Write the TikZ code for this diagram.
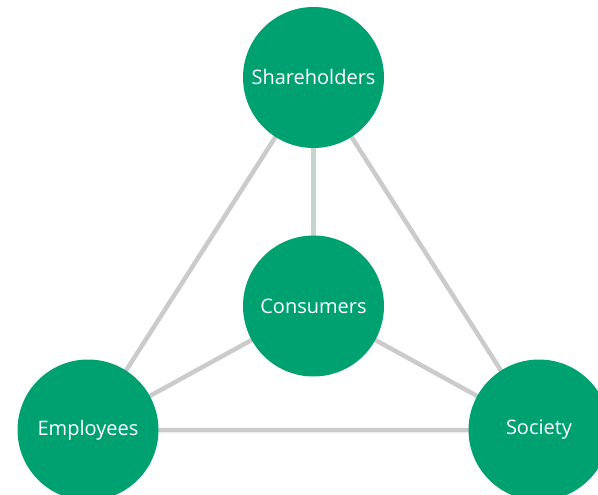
\documentclass[tikz,border=0pt]{standalone}
\usepackage{fontspec}
\setmainfont{Open Sans}
\usepackage{tikz}
\usetikzlibrary{positioning,backgrounds}
\definecolor{stakegreen}{HTML}{00A171}
\definecolor{linkgray}{HTML}{CBCBCB}
\definecolor{linkmint}{HTML}{C6D4CF}

\begin{document}
\begin{tikzpicture}[
    x=1pt, y=-1pt,
    stake/.style={circle, fill=stakegreen, text=white, inner sep=0, minimum size=141pt, font=\fontsize{20}{24}\selectfont},
    link/.style={draw=linkgray, line width=4.5pt},
    ]
\useasboundingbox (0,0) rectangle (598,495);

\node[stake] (share) at (313.5,77.5) {Shareholders};
\node[stake] (cons)  at (313.5,306)  {Consumers};
\node[stake] (empl)  at (88,430)     {Employees};
\node[stake] (soc)   at (539,430)    {Society};

\begin{scope}[on background layer]
\path[link] (empl.center) -- (share.center) -- (soc.center) -- cycle;
\path[link] (cons.center) -- (empl.center);
\path[link] (cons.center) -- (soc.center);
\path[link, draw=linkmint] (share.center) -- (cons.center);
\end{scope}

\end{tikzpicture}
\end{document}
